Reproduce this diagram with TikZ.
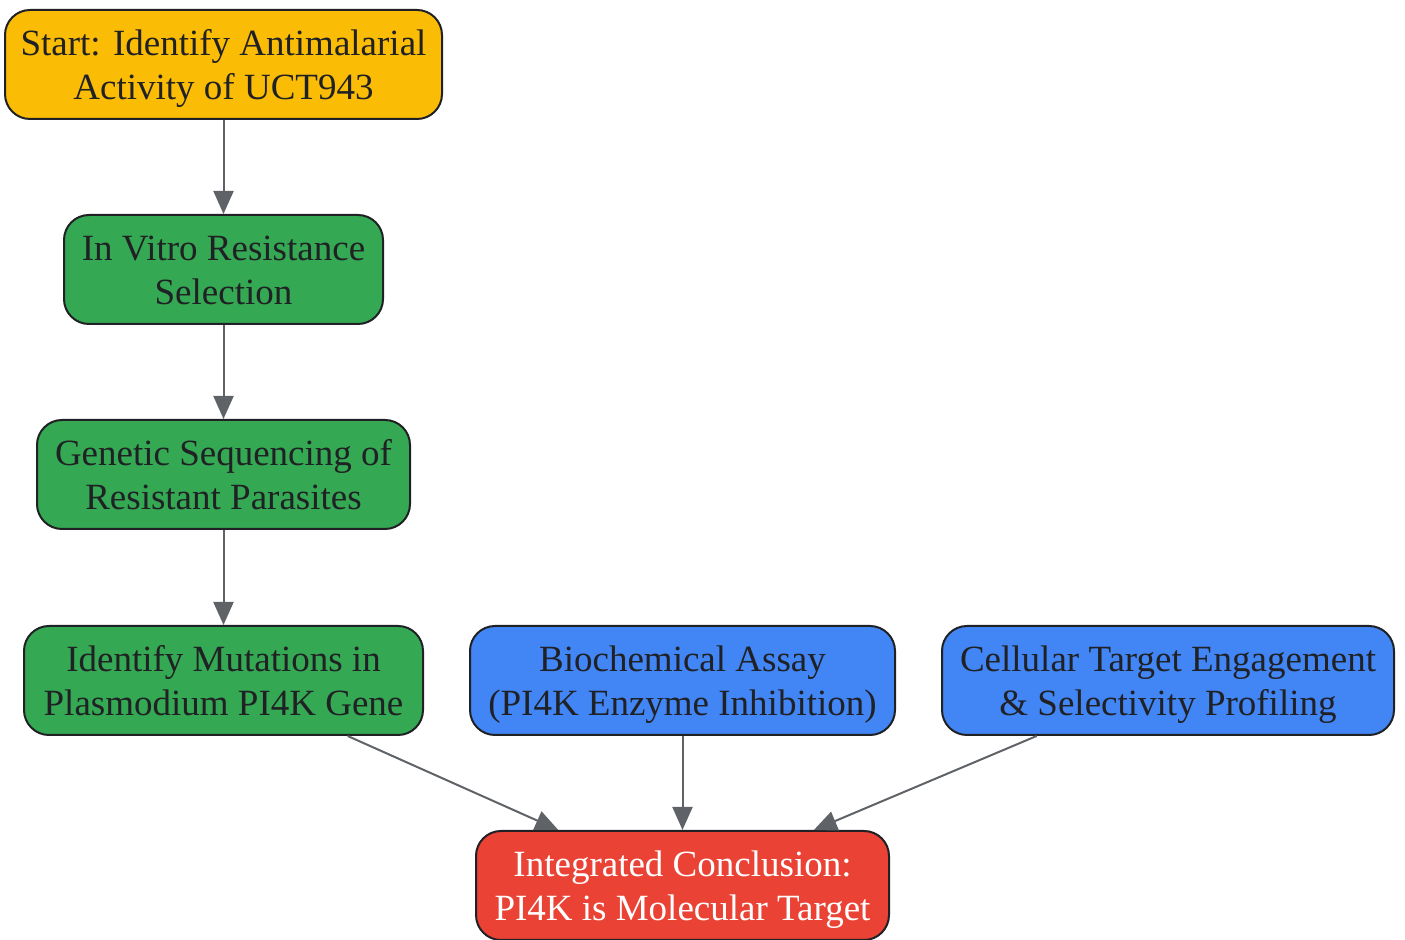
\documentclass[tikz,border=0pt]{standalone}
\usepackage{fontspec}
\setmainfont{Liberation Serif}
\usetikzlibrary{arrows.meta}
\definecolor{gyellow}{HTML}{FBBC05}
\definecolor{ggreen}{HTML}{34A853}
\definecolor{gblue}{HTML}{4285F4}
\definecolor{gred}{HTML}{EA4335}
\definecolor{ink}{HTML}{202124}
\definecolor{edgegray}{HTML}{5F6368}
% two lines of box text, with even line heights
\newcommand{\boxtext}[2]{\rule{0pt}{17.5pt}#1\\#2\rule[-4pt]{0pt}{0pt}}
\begin{document}
\begin{tikzpicture}[x=0.5pt, y=-0.5pt,
    box/.style={draw=ink, line width=1pt, rounded corners=12.5pt, align=center,
      minimum height=54.5pt, inner sep=0pt, text=ink,
      font=\fontsize{18.5}{22}\selectfont},
    flow/.style={draw=edgegray, line width=1pt, -{Triangle[length=11.5pt, width=10pt]}}]
    \useasboundingbox (0,0) rectangle (1405,940);
    % main column
    \node[box, fill=gyellow, minimum width=218.5pt] (start) at (223.5,64.5) {\boxtext{Start: Identify Antimalarial}{Activity of UCT943}};
    \node[box, fill=ggreen, minimum width=159.5pt] (select) at (223.5,269.5) {\boxtext{In Vitro Resistance}{Selection}};
    \node[box, fill=ggreen, minimum width=186.5pt] (seq) at (223.5,474.5) {\boxtext{Genetic Sequencing of}{Resistant Parasites}};
    \node[box, fill=ggreen, minimum width=199.5pt] (mut) at (223.5,680.5) {\boxtext{Identify Mutations in}{Plasmodium PI4K Gene}};
    % side evidence
    \node[box, fill=gblue, minimum width=212.5pt] (assay) at (682.5,680.5) {\boxtext{Biochemical Assay}{(PI4K Enzyme Inhibition)}};
    \node[box, fill=gblue, minimum width=226pt] (cell) at (1168,680.5) {\boxtext{Cellular Target Engagement}{\& Selectivity Profiling}};
    \node[box, fill=gred, text=white, minimum width=206.5pt] (concl) at (682.5,885.5) {\boxtext{Integrated Conclusion:}{PI4K is Molecular Target}};
    \draw[flow] (start) -- (select);
    \draw[flow] (select) -- (seq);
    \draw[flow] (seq) -- (mut);
    \draw[flow] (mut) -- (concl);
    \draw[flow] (assay) -- (concl);
    \draw[flow] (cell) -- (concl);
\end{tikzpicture}
\end{document}
